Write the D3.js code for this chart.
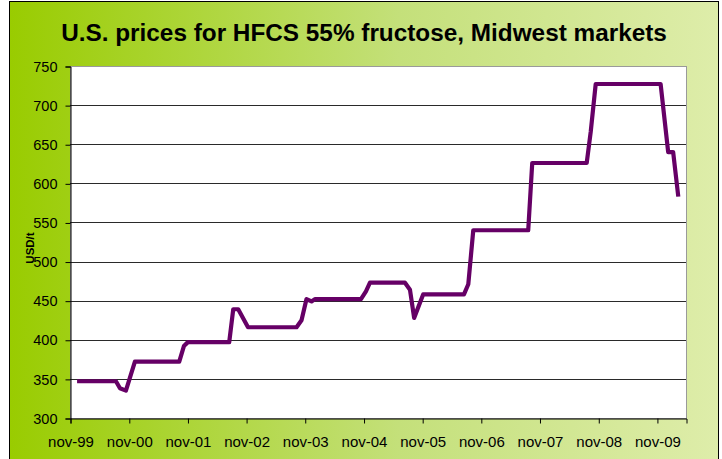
<!DOCTYPE html>
<html>
<head>
<meta charset="utf-8">
<script src="https://cdn.jsdelivr.net/npm/d3@7"></script>
<style>
  html, body { margin: 0; padding: 0; background: #fff; }
  svg { display: block; }
</style>
</head>
<body>
<div id="chart"></div>
<script>
// ---- data ----
const title = "U.S. prices for HFCS 55% fructose, Midwest markets";
const yLabel = "USD/t";
const dates = [
  "1999-12-15","2000-08-13","2000-09-07","2000-10-14","2000-12-09",
  "2001-09-11","2001-10-10","2001-11-04","2002-07-19","2002-08-13",
  "2002-09-13","2002-11-13","2003-09-11","2003-10-12","2003-11-12",
  "2003-12-13","2004-01-03","2004-10-16","2004-11-16","2004-12-11",
  "2005-07-17","2005-08-17","2005-09-12","2005-11-07","2006-07-19",
  "2006-08-15","2006-09-15","2007-08-23","2007-09-17","2008-08-21",
  "2008-09-15","2008-10-16","2009-11-24","2010-01-10","2010-02-10",
  "2010-03-14"
];
const prices = [
  347,347,338,335,372,
  372,392,397,397,439,
  439,416,416,425,452,
  449,452,452,462,473,
  473,464,428,458,458,
  471,540,540,626,626,
  666,727,727,640,640,
  583
];
const xTickDates = ["1999-11-01","2000-11-01","2001-11-01","2002-11-01","2003-11-01",
  "2004-11-01","2005-11-01","2006-11-01","2007-11-01","2008-11-01","2009-11-01"];
const xTickLabels = ["nov-99","nov-00","nov-01","nov-02","nov-03",
  "nov-04","nov-05","nov-06","nov-07","nov-08","nov-09"];
const yTicks = [300,350,400,450,500,550,600,650,700,750];
const xDomain = ["1999-11-01","2010-05-01"];
const yDomain = [300,750];

// ---- layout ----
const W = 722, H = 459;
const FONT = "'Liberation Sans', Arial, sans-serif";
const plot = {left: 70, right: 686, top: 66, bottom: 418};
const parse = d3.timeParse("%Y-%m-%d");

const svg = d3.select("#chart").append("svg")
  .attr("width", W).attr("height", H)
  .attr("font-family", FONT);

const defs = svg.append("defs");
const grad = defs.append("linearGradient").attr("id", "bg")
  .attr("x1", "0%").attr("x2", "100%").attr("y1", "0%").attr("y2", "0%");
grad.append("stop").attr("offset", "0%").attr("stop-color", "#99cc00");
grad.append("stop").attr("offset", "55%").attr("stop-color", "#c4e07a");
grad.append("stop").attr("offset", "100%").attr("stop-color", "#deedaa");

// background / frame
svg.append("rect").attr("x", 9.5).attr("y", 1.5).attr("width", 709).attr("height", 480)
  .attr("fill", "url(#bg)").attr("stroke", "#000").attr("stroke-width", 1);

const x = d3.scaleTime().domain(xDomain.map(parse)).range([plot.left, plot.right]);
const y = d3.scaleLinear().domain(yDomain).range([plot.bottom, plot.top]);

// plot area
svg.append("rect").attr("x", plot.left + 0.5).attr("y", plot.top + 0.5)
  .attr("width", plot.right - plot.left).attr("height", plot.bottom - plot.top)
  .attr("fill", "#fff").attr("stroke", "#9a9a9a").attr("stroke-width", 1);

// gridlines
svg.append("g").selectAll("line")
  .data(yTicks.filter(v => v > yDomain[0] && v < yDomain[1]))
  .join("line")
  .attr("x1", plot.left).attr("x2", plot.right)
  .attr("y1", d => Math.round(y(d)) + 0.5).attr("y2", d => Math.round(y(d)) + 0.5)
  .attr("stroke", "#2a2a2a").attr("stroke-width", 1);

// y axis
const yAxis = d3.axisLeft(y).tickValues(yTicks).tickSize(5).tickPadding(8).tickFormat(d3.format("d"));
const gy = svg.append("g").attr("transform", `translate(${plot.left + 0.5},0.5)`).call(yAxis);
gy.attr("font-family", FONT);
gy.select(".domain").attr("stroke", "#000");
gy.selectAll(".tick line").attr("stroke", "#000");
gy.selectAll("text").attr("font-size", 14.5).attr("fill", "#000");

// x axis
const xAxis = d3.axisBottom(x).tickValues(xTickDates.map(parse)).tickSize(5).tickPadding(13)
  .tickFormat((d, i) => xTickLabels[i]);
const gx = svg.append("g").attr("transform", `translate(0.5,${plot.bottom + 0.5})`).call(xAxis);
gx.attr("font-family", FONT);
gx.select(".domain").attr("stroke", "#000");
gx.selectAll(".tick line").attr("stroke", "#000");
gx.selectAll("text").attr("font-size", 15).attr("fill", "#000");

// line
const data = dates.map((d, i) => ({date: parse(d), value: prices[i]}));
svg.append("path").datum(data)
  .attr("fill", "none").attr("stroke", "#660066").attr("stroke-width", 4.2)
  .attr("stroke-linejoin", "round")
  .attr("d", d3.line().x(d => x(d.date)).y(d => y(d.value)));

// title (sized to span the same width as the reference)
const t = svg.append("text").attr("x", 364).attr("y", 41).attr("text-anchor", "middle")
  .attr("font-size", 21).attr("font-weight", "bold").attr("fill", "#000")
  .text(title);
const tw = t.node().getComputedTextLength();
if (tw > 0) t.attr("font-size", Math.min(26, 21 * 606 / tw));

// y label
svg.append("text").attr("transform", "translate(34,248) rotate(-90)")
  .attr("text-anchor", "middle").attr("font-size", 11.5).attr("font-weight", "bold")
  .attr("fill", "#000").text(yLabel);
</script>
</body>
</html>
